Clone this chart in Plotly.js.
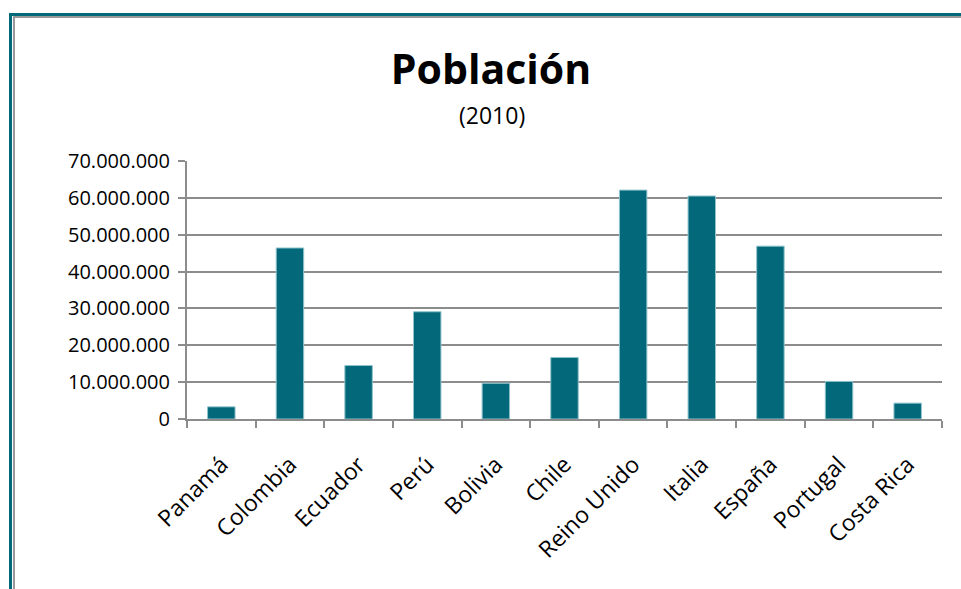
<!DOCTYPE html>
<html>
<head>
<meta charset="utf-8">
<script src="https://cdn.plot.ly/plotly-3.0.1.min.js"></script>
<style>
  html, body { margin: 0; padding: 0; background: #fff; overflow: hidden; }
  #frame1 { position: absolute; left: 9px; top: 13px; width: 2000px; height: 2000px;
            border-left: 3px solid #006a78; border-top: 3px solid #006a78; }
  #frame2 { position: absolute; left: 13px; top: 16px; width: 2000px; height: 2000px;
            border-left: 2px solid #999; border-top: 2px solid #999; }
  #chart { position: absolute; left: 0; top: 0; width: 961px; height: 589px; }
</style>
</head>
<body>
<div id="frame1"></div>
<div id="frame2"></div>
<div id="chart"></div>
<script>
const paises = ["Panamá", "Colombia", "Ecuador", "Perú", "Bolivia", "Chile",
                "Reino Unido", "Italia", "España", "Portugal", "Costa Rica"];
const poblacion = [3300000, 46400000, 14500000, 29100000, 9700000, 16700000,
                   62100000, 60500000, 46900000, 10200000, 4300000];
const yTicks = [0, 10000000, 20000000, 30000000, 40000000, 50000000, 60000000, 70000000];

const trace = {
  type: "bar",
  x: paises,
  y: poblacion,
  marker: { color: "#03687a", line: { color: "#8fc3cc", width: 1 } },
  hoverinfo: "x+y"
};

const layout = {
  width: 961, height: 589,
  paper_bgcolor: "rgba(0,0,0,0)",
  plot_bgcolor: "rgba(0,0,0,0)",
  separators: ",.",
  margin: { l: 187, r: 19, t: 161, b: 170 },
  bargap: 0.6,
  font: { family: "Open Sans, sans-serif", color: "#000", size: 20 },
  title: {
    text: "<b>Población</b>",
    font: { family: "Open Sans, sans-serif", size: 41, color: "#000" },
    x: (491 - 187) / (942 - 187), xanchor: "center", xref: "paper",
    y: 1 - 70 / 589, yanchor: "middle", yref: "container"
  },
  annotations: [{
    text: "(2010)", showarrow: false,
    xref: "paper", yref: "paper",
    x: (492 - 187) / (942 - 187), xanchor: "center",
    y: 1 + (161 - 115) / 258, yanchor: "middle",
    font: { family: "Open Sans, sans-serif", size: 23, color: "#000" }
  }],
  xaxis: {
    type: "category",
    tickangle: -45,
    showline: true, linecolor: "#8c8c8c", linewidth: 2,
    ticks: "outside", ticklen: 7, tickcolor: "#8c8c8c", tickwidth: 2,
    tickson: "boundaries",
    ticklabelstandoff: 21,
    showgrid: false,
    tickfont: { size: 23 },
    fixedrange: true
  },
  yaxis: {
    range: [0, 70000000],
    tickvals: yTicks,
    tickformat: ",d",
    showline: true, linecolor: "#8c8c8c", linewidth: 2,
    ticks: "outside", ticklen: 7, tickcolor: "#8c8c8c", tickwidth: 2,
    ticklabelstandoff: 4,
    showgrid: true, gridcolor: "#8c8c8c", gridwidth: 2,
    zeroline: false,
    tickfont: { size: 20 },
    fixedrange: true
  },
  showlegend: false
};

Plotly.newPlot("chart", [trace], layout, { displayModeBar: false, staticPlot: true });
</script>
</body>
</html>
